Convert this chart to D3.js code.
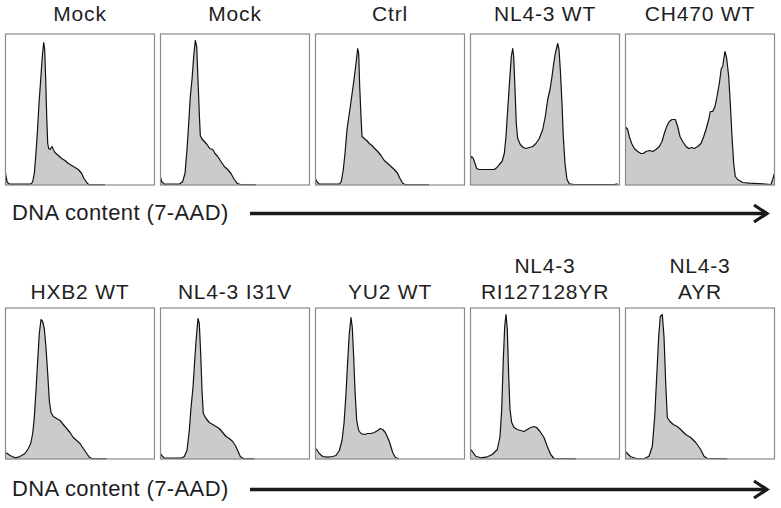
<!DOCTYPE html>
<html>
<head>
<meta charset="utf-8">
<script src="https://cdn.jsdelivr.net/npm/d3@7"></script>
<style>
  body { margin: 0; background: #fff; }
  svg text { font-family: "Liberation Sans", Arial, Helvetica, sans-serif; fill: #1e1e1e; }
</style>
</head>
<body>
<div id="chart"></div>
<script>
// histogram samples: [7-AAD channel, relative count]
const mock1 = [[0,16],[1,9],[2.3,3],[5,1.3],[25,1.3],[26.7,2.3],[27.7,4],[29.3,12],[30.7,29],[32.3,52],[34,82],[35.7,106],[37.3,129],[38.7,143],[39.7,136],[40.7,106],[41.7,69],[42.7,42],[43.7,37],[45,36],[47,39],[48.3,36],[50,33],[53.3,30],[56.7,27],[60,25],[63.3,22],[66.7,20],[70,18],[73.3,16],[76.7,12],[79,7],[81.7,3],[84,0.7],[100,0.7]];
const mock2 = [[0,10],[1.7,4],[4.3,1.3],[19.3,1.3],[22.7,4],[25,12],[27,36],[28.7,62],[30.3,89],[32,106],[33.7,129],[35.3,145],[36.7,139],[38,106],[39.3,72],[40.3,50],[41.7,47],[44.3,44],[47,41],[49.7,37],[52.7,36],[55,32],[57.7,29],[61,24],[64.3,19],[67.7,16],[71,12],[74.3,6],[77,2.3],[81,0.7],[96,0.7]];
const ctrl = [[0,8],[1.7,4],[4.3,1.3],[24.3,1.3],[26.3,4],[28.3,16],[30,32],[32,56],[34.3,72],[36.7,89],[39,106],[41,122],[42.7,137],[43.7,132],[44.7,99],[46,69],[47,49],[49.3,47],[51.7,45],[54.3,42],[57,40],[59.7,37],[62.7,34],[66,30],[69.3,25],[72.7,22],[76,19],[79.3,16],[82.7,12],[85,7],[87.7,2.3],[90.3,0.7],[114,0.7]];
const nl43wt = [[0,26],[1.7,29],[3.3,27],[5,22],[6.7,17],[9.3,16],[14.3,16],[19.3,16],[24.3,16],[27,18],[29.3,21],[32,24],[34.3,32],[36,49],[37.7,76],[39.7,106],[41.3,129],[42.7,137],[43.7,129],[45,96],[46.3,62],[47.7,47],[50.3,41],[53.3,38],[56,37],[59.3,38],[62.7,39],[66,42],[69.3,47],[72.7,56],[75.3,69],[77.7,86],[80,96],[82,109],[83.7,122],[85.3,132],[87.7,142],[89,136],[90.3,116],[92,82],[93.3,49],[95,22],[97,6],[99.3,1.7],[104.3,1],[144.3,1],[147.7,1.7]];
const ch470wt = [[0,56],[1,58],[2.7,56],[4.3,49],[6.7,42],[9.3,37],[12.7,34],[16,32],[18.3,32],[21,34],[24.3,35],[27.7,34],[31,36],[34.3,39],[37,44],[39.3,52],[41.7,59],[44.3,64],[47,66],[50.3,66],[52.7,59],[55,49],[57.7,44],[61,39],[63.7,37],[66.7,38],[69.3,37],[72.7,39],[76,42],[78.7,49],[81,56],[83.7,66],[85.3,74],[87.7,74],[90,79],[92,89],[94.3,102],[96.3,117],[97.7,119],[98.7,126],[100,134],[101.7,127],[103.7,109],[105.3,82],[107,49],[108.7,22],[110.3,9],[112.7,6],[117.7,3],[124.3,2.3],[137.7,1.7],[146,1],[147.7,6],[150,14]];
const hxb2wt = [[0,7],[2.3,6],[5,4],[10,1.7],[13.3,2.3],[16.7,4],[20,6],[23.3,11],[25.7,16],[27.7,26],[29.3,42],[31,69],[32.7,99],[34.3,126],[36,140],[37.7,138],[39.3,131],[41,112],[42.7,86],[44.3,59],[46,47],[48.3,43],[51.7,41],[55,39],[58.3,35],[61.7,31],[65,27],[68.3,22],[71.7,19],[75,16],[78.3,11],[81.7,6],[84.3,2.3],[87.7,0.7],[101.7,0.7]];
const nl43i31v = [[0,7],[1.7,4],[4.3,1.3],[21,1.3],[24.3,3],[27,9],[29.3,29],[31,52],[33,72],[34.7,99],[36.3,122],[38,141],[39.3,136],[40.7,106],[42,69],[43.3,46],[46,41],[49.3,37],[52.7,35],[56,33],[59.3,31],[62.7,27],[66,23],[69.3,21],[72.7,18],[75.3,14],[77.7,9],[80.3,3],[83.7,0.7],[94.3,0.7]];
const yu2wt = [[0,11],[1.7,10],[4.3,6],[7.7,3],[12.7,2.3],[17.7,3],[21,4],[24.3,9],[27,19],[29,36],[31,66],[32.7,99],[34.3,126],[36,142],[37.3,132],[38.7,102],[40,69],[41.7,39],[43.7,29],[46,26],[49.3,25],[52.7,26],[56,26],[59.3,27],[62.7,29],[65.3,31],[67.7,30],[70.3,27],[72.7,22],[75,16],[77.7,7],[80.3,2.3],[83.7,0.7]];
const ri127128yr = [[0,10.7],[2.3,8],[5.7,3.3],[10.7,1.7],[17.3,2.7],[22.3,5],[27.3,10],[30,23],[31.7,50],[33.3,100],[34.7,133],[36,145],[37.3,130],[38.7,83],[40,50],[41.7,37],[44,32],[47.3,30],[50.7,29],[54,28],[57.3,30],[60.7,32],[64,33],[66.7,32],[70,28],[74,22],[77.3,13],[80.7,5],[84,1],[105.7,0.7]];
const ayr = [[0,8.3],[2.3,6],[5.7,2.7],[12.3,0.7],[19,0.7],[24,3.3],[27.3,13],[29.7,43],[31.7,83],[33.7,123],[35.3,143],[37.3,145],[39,123],[40.7,77],[42.3,42],[45,38],[48.3,35],[52.3,33],[55.7,30],[60.7,25],[65.7,22],[70.7,17],[75.7,10],[79,3.3],[82.3,1],[102.3,0.7]];

const titles = [["Mock"],["Mock"],["Ctrl"],["NL4-3 WT"],["CH470 WT"],
                ["HXB2 WT"],["NL4-3 I31V"],["YU2 WT"],["NL4-3","RI127128YR"],["NL4-3","AYR"]];
const series = [mock1, mock2, ctrl, nl43wt, ch470wt, hxb2wt, nl43i31v, yu2wt, ri127128yr, ayr];
const axisLabel = "DNA content (7-AAD)";
const channelMax = 150, countMax = 152;

const width = 781, height = 508;
const rowTops = [33.5, 307.5], boxH = 152;
const titleBase = [21, 299], lineGap = 26.5;
const arrowY = [213.5, 489.5], labelBase = [220, 496];

const svg = d3.select('#chart').append('svg')
    .attr('width', width).attr('height', height);

const panelX = d3.scaleBand(d3.range(5), [5, 775]).paddingInner(1/31);
const x = d3.scaleLinear([0, channelMax], [0, panelX.bandwidth()]);
const y = d3.scaleLinear([0, countMax], [boxH, 0]);

const area = d3.area().x(d => x(d[0])).y0(y(0)).y1(d => y(d[1]));
const line = d3.line().x(d => x(d[0])).y(d => y(d[1]));

series.forEach((data, i) => {
    const row = Math.floor(i / 5), col = i % 5;
    const g = svg.append('g')
        .attr('transform', `translate(${panelX(col)},${rowTops[row]})`);

    g.append('clipPath').attr('id', `clip${i}`)
      .append('rect').attr('width', panelX.bandwidth()).attr('height', boxH);

    const plot = g.append('g').attr('clip-path', `url(#clip${i})`);
    plot.append('path').datum(data)
        .attr('d', area).attr('fill', '#cbcbcb');
    plot.append('path').datum(data)
        .attr('d', line).attr('fill', 'none')
        .attr('stroke', '#111').attr('stroke-width', 1.2)
        .attr('stroke-linejoin', 'round');

    g.append('rect')
        .attr('x', 0.5).attr('y', 0.5)
        .attr('width', panelX.bandwidth() - 1).attr('height', boxH - 1)
        .attr('fill', 'none').attr('stroke', '#8a8a8a').attr('stroke-width', 1.2);

    const lines = titles[i];
    svg.append('text')
        .attr('x', panelX(col) + panelX.bandwidth() / 2)
        .attr('text-anchor', 'middle')
        .style('font-size', '21px').style('letter-spacing', '0.8px')
        .selectAll('tspan').data(lines).join('tspan')
        .attr('x', panelX(col) + panelX.bandwidth() / 2)
        .attr('y', (d, k) => titleBase[row] - (lines.length - 1 - k) * lineGap)
        .text(d => d);
});

// axis label with arrow, one per row
const defs = svg.append('defs');
[0, 1].forEach(row => {
    svg.append('text')
        .attr('x', 12).attr('y', labelBase[row])
        .style('font-size', '22px').style('letter-spacing', '0.4px')
        .text(axisLabel);
    svg.append('line')
        .attr('x1', 250).attr('x2', 767)
        .attr('y1', arrowY[row]).attr('y2', arrowY[row])
        .attr('stroke', '#1a1a1a').attr('stroke-width', 3.5);
    svg.append('path')
        .attr('d', d3.line()([[754, arrowY[row] - 8.5], [767, arrowY[row]], [754, arrowY[row] + 8.5]]))
        .attr('fill', 'none').attr('stroke', '#1a1a1a').attr('stroke-width', 3.2)
        .attr('stroke-linejoin', 'miter');
});
</script>
</body>
</html>
